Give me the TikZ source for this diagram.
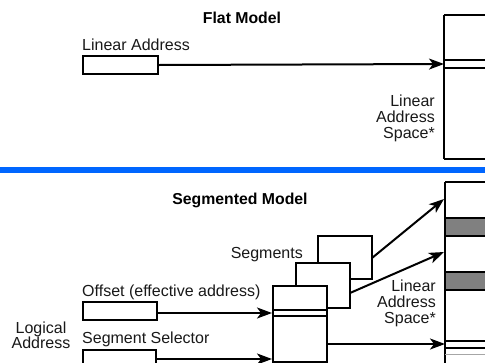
\documentclass[tikz,border=0pt]{standalone}
\usepackage{fontspec}
\setmainfont{Liberation Sans}
\usetikzlibrary{arrows.meta}
\definecolor{sepblue}{HTML}{0066FF}
\definecolor{bandgray}{HTML}{808080}
\tikzset{
  box/.style={draw=black, line width=2pt},
  conn/.style={draw=black, line width=2pt, -{Stealth[length=15pt,width=11pt,inset=4pt]}},
  lbl/.style={inner sep=0pt, font=\fontsize{16}{17}\selectfont, text=black!90},
  ttl/.style={inner sep=0pt, font=\fontsize{15.8}{17}\selectfont\bfseries},
}
\begin{document}
\begin{tikzpicture}[x=1pt,y=-1pt]
\useasboundingbox (0,0) rectangle (485,362);
\fill[white] (0,0) rectangle (485,362);
% separator
\fill[sepblue] (0,167) rectangle (485,173);

% ---------- Flat model ----------
\node[ttl, anchor=base] (flattitle) at (242,23) {Flat Model};
\node[lbl, anchor=base west] (lalabel) at (82,50) {Linear Address};
\node[box, minimum width=75pt, minimum height=18pt, inner sep=0pt, anchor=north west] (labox) at (82,55) {};
\draw[box] (444,15) -- (444,159);
\draw[box] (444,15) -- (490,15);
\draw[box] (444,159) -- (490,159);
\draw[line width=1.6pt] (444,60) -- (490,60);
\draw[line width=1.6pt] (444,68) -- (490,68);
\coordinate (flattarget) at (444,64);
\draw[conn] (labox.east) -- (flattarget);
\node[lbl, anchor=base east] (flatlas) at (435,106) {Linear};
\node[lbl, anchor=base east] (flatlas2) at (435,122) {Address};
\node[lbl, anchor=base east] (flatlas3) at (435,138) {Space*};

% ---------- Segmented model ----------
\node[ttl, anchor=base] (segtitle) at (240,204) {Segmented Model};

% linear address space (bottom)
\fill[bandgray] (445,218) rectangle (490,236);
\fill[bandgray] (445,272) rectangle (490,290);
\draw[box] (445,182) -- (445,365);
\draw[box] (445,182) -- (490,182);
\draw[box] (445,218) -- (490,218);
\draw[box] (445,236) -- (490,236);
\draw[box] (445,272) -- (490,272);
\draw[box] (445,290) -- (490,290);
\draw[line width=1.6pt] (445,341) -- (490,341);
\draw[line width=1.6pt] (445,348) -- (490,348);
\draw[line width=1pt, black!35] (445,354) -- (490,354);

% segments
\node[box, fill=white, minimum width=54pt, minimum height=43pt, inner sep=0pt, anchor=north west] (seg3) at (317,235) {};
\node[box, fill=white, minimum width=54pt, minimum height=45pt, inner sep=0pt, anchor=north west] (seg2) at (295,262) {};
\node[box, fill=white, minimum width=54pt, minimum height=76pt, inner sep=0pt, anchor=north west] (seg1) at (272,285) {};
\draw[line width=1.6pt] (seg1.west |- 0,310) -- (seg1.east |- 0,310);
\draw[line width=1.6pt] (seg1.west |- 0,316) -- (seg1.east |- 0,316);
\node[lbl, anchor=base east] (seglabel) at (303,258) {Segments};

% offset and selector
\node[lbl, anchor=base west] (offlabel) at (82,296) {Offset (effective address)};
\node[box, minimum width=74pt, minimum height=18pt, inner sep=0pt, anchor=north west] (offbox) at (82,301) {};
\node[lbl, anchor=base west] (sellabel) at (82,343) {Segment Selector};
\node[box, minimum width=73pt, minimum height=18pt, inner sep=0pt, anchor=north west] (selbox) at (82,349) {};
\node[lbl, anchor=base] (logical) at (41,333) {Logical};
\node[lbl, anchor=base] (logical2) at (41,348) {Address};

\coordinate (offtarget) at (272,313);
\coordinate (seltarget) at (272,359);
\draw[conn] (offbox.east |- offtarget) -- (offtarget);
\draw[conn] (selbox.east |- seltarget) -- (seltarget);

% segments to linear space
\coordinate (t1) at (444,199);
\coordinate (t2) at (444,252);
\coordinate (t3) at (445,344);
\coordinate (s3) at (372,258);
\coordinate (s2) at (350,293);
\coordinate (s1) at (328,344);
\draw[conn] (s3) -- (t1);
\draw[conn] (s2) -- (t2);
\draw[conn] (s1) -- (t3);

\node[lbl, anchor=base east] (seglas1) at (436,291) {Linear};
\node[lbl, anchor=base east] (seglas2) at (436,307) {Address};
\node[lbl, anchor=base east] (seglas3) at (436,323) {Space*};
\end{tikzpicture}
\end{document}
